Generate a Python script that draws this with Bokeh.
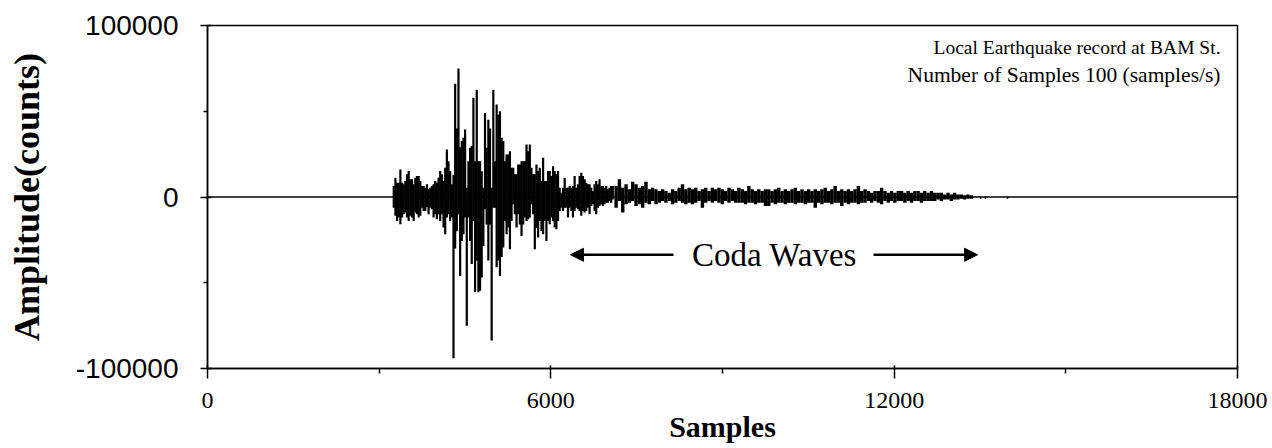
from bokeh.plotting import figure
from bokeh.models import (Range1d, FixedTicker, Label, Arrow, NormalHead,
                          ColumnDataSource, NumeralTickFormatter)
from bokeh.embed import file_html
from bokeh.resources import INLINE

# ---------------- data ----------------
# main burst: column readings (sample index, upper and lower excursion in counts)
burst_samples = [
    3255, 3284, 3313, 3342, 3371, 3400, 3429, 3458, 3487, 3516,
    3545, 3574, 3603, 3632, 3661, 3690, 3719, 3748, 3777, 3806,
    3835, 3864, 3893, 3922, 3951, 3980, 4009, 4038, 4067, 4096,
    4125, 4154, 4183, 4212, 4241, 4270, 4299, 4328, 4357, 4386,
    4415, 4444, 4473, 4502, 4531, 4560, 4589, 4618, 4647, 4676,
    4705, 4734, 4763, 4792, 4821, 4850, 4879, 4908, 4937, 4966,
    4995, 5024, 5053, 5082, 5111, 5140, 5169, 5198, 5227, 5256,
    5285, 5314, 5343, 5372, 5401, 5430, 5459, 5488, 5517, 5546,
    5575, 5604, 5633, 5662, 5691, 5720, 5749, 5778, 5807, 5836,
    5865, 5894, 5923, 5952, 5981, 6010, 6039, 6068, 6097, 6126,
    6155, 6184, 6213, 6242, 6271, 6300, 6329, 6358, 6387, 6416,
    6445, 6474, 6503, 6532, 6561, 6590, 6619, 6648, 6677, 6706,
    6735, 6764, 6793, 6822, 6851, 6880, 6909, 6938, 6967, 6996,
    7025, 7054, 7083]
burst_upper = [
    6400, 11200, 8300, 8300, 16100, 8300, 7400, 9300, 13200, 15100,
    10300, 10300, 7400, 11200, 12200, 12200, 9300, 6400, 6400, 5400,
    7400, 4500, 5400, 6400, 7400, 9300, 8300, 11200, 15100, 13200,
    9300, 17100, 27700, 20900, 15100, 7400, 13000, 66000, 40000, 75000,
    29000, 32600, 34500, 39300, 5400, 20900, 28700, 29700, 57800, 20900,
    62600, 20900, 20900, 15000, 5400, 49000, 28700, 45000, 40000, 5400,
    62600, 20900, 53900, 48000, 50000, 34500, 32600, 20900, 24800, 24800,
    26700, 17000, 17000, 13200, 13200, 19000, 19000, 20900, 20900, 20900,
    30600, 26700, 30600, 17000, 13200, 13200, 19000, 15100, 17000, 9300,
    22900, 9300, 9300, 15100, 15100, 12200, 18000, 15100, 13200, 15100,
    5400, 2500, 5400, 11200, 5400, 5400, 6400, 5400, 6400, 12200,
    5400, 7400, 12200, 14100, 12200, 10300, 8300, 7400, 7400, 5400,
    3500, 7400, 9300, 7400, 10300, 6400, 6400, 5400, 6400, 4500,
    5400, 6400, 6400]
burst_lower = [
    -6200, -11000, -14000, -12000, -15900, -12000, -10000, -9100, -12000, -14000,
    -11000, -12000, -14000, -9000, -10000, -12000, -11000, -6200, -8100, -8100,
    -6000, -10000, -6200, -7200, -12000, -10000, -13000, -10000, -14000, -10000,
    -17800, -21700, -12000, -10000, -14000, -12000, -94000, -30000, -20000, -10000,
    -46000, -25600, -21700, -12000, -75000, -12000, -25600, -39000, -14000, -55600,
    -37000, -55600, -54700, -47000, -28500, -7200, -16000, -37000, -16000, -83700,
    -6200, -6200, -41000, -37000, -46000, -35000, -29500, -14000, -21700, -17800,
    -30400, -14000, -4300, -10000, -17800, -10000, -16000, -22700, -16000, -12000,
    -14000, -13000, -12000, -4300, -10000, -30400, -18000, -23600, -14000, -19800,
    -21700, -14000, -25600, -14000, -15900, -12000, -14000, -17800, -18800, -14000,
    -8100, -6200, -8100, -6200, -6200, -12000, -6200, -8100, -12000, -8100,
    -6200, -7200, -8100, -11000, -8100, -9100, -8100, -6200, -10000, -5200,
    -4300, -8100, -10000, -6200, -5200, -4300, -5200, -4300, -3300, -3300,
    -2300, -3300, -1400]

# coda: column readings
coda_samples = [
    7141, 7199, 7257, 7315, 7373, 7431, 7489, 7547, 7605, 7663,
    7721, 7779, 7837, 7895, 7953, 8011, 8069, 8127, 8185, 8243,
    8301, 8359, 8417, 8475, 8533, 8591, 8649, 8707, 8765, 8823,
    8881, 8939, 8997, 9055, 9113, 9171, 9229, 9287, 9345, 9403,
    9461, 9519, 9577, 9635, 9693, 9751, 9809, 9867, 9925, 9983,
    10041, 10099, 10157, 10215, 10273, 10331, 10389, 10447, 10505, 10563,
    10621, 10679, 10737, 10795, 10853, 10911, 10969, 11027, 11085, 11143,
    11201, 11259, 11317, 11375, 11433, 11491, 11549, 11607, 11665, 11723,
    11781, 11839, 11897, 11955, 12013, 12071, 12129, 12187, 12245, 12303,
    12361, 12419, 12477, 12535, 12593, 12651, 12709, 12767, 12825, 12883,
    12941, 12999, 13057, 13115, 13173, 13231, 13289, 13347]
coda_upper = [
    6400, 10300, 5400, 7400, 4500, 8900, 7400, 5400, 6400, 8900,
    4500, 5400, 4500, 3500, 4500, 3500, 2500, 4500, 3500, 5400,
    7400, 4500, 5400, 4500, 5400, 3500, 4500, 5400, 3500, 5400,
    4500, 5400, 4500, 3500, 5400, 4500, 3500, 5400,
    4500, 3500, 6400, 4500, 3500, 4500, 3500, 4500, 4500, 3500,
    4500, 5400, 3500, 4500, 3500, 4500, 5400, 3500, 4500, 3500,
    4500, 3500, 4500, 3500, 4500, 5400, 3500, 4500, 6400, 3500,
    4500, 3500, 4500, 3500, 4500, 6400, 3500, 4500,
    3500, 2500, 3500, 3500, 5400, 3500, 2500, 3500, 2500, 3500,
    3500, 2500, 3500, 2500, 3500, 3500, 2500, 3500, 2500, 3500,
    2500, 2500, 2500, 1500, 2500, 1500, 2500, 1500, 1500, 1000,
    1500, 1000]
coda_lower = [
    -6200, -2300, -9100, -4300, -3300, -2300, -5200, -4300, -6200, -3300,
    -4300, -2300, -4300, -3300, -2300, -3300, -2300, -4300, -3300, -2300,
    -3300, -4300, -3300, -4300, -3300, -2300, -6200, -3300, -2300, -3300,
    -2300, -3300, -4300, -2300, -3300, -2300, -3300, -3300,
    -3300, -4300, -3300, -3300, -4300, -3300, -3300, -5200, -5200, -3300,
    -4300, -3300, -3300, -4300, -3300, -3300, -4300, -3300, -3300, -4300,
    -3300, -3300, -6200, -3300, -4300, -3300, -3300, -4300, -3300, -3300,
    -5200, -3300, -4300, -3300, -3300, -4300, -3300, -3300,
    -2300, -3300, -2300, -3300, -4300, -2300, -3300, -2300, -3300, -2300,
    -2300, -3300, -2300, -3300, -2300, -2300, -3300, -2300, -2300, -2300,
    -2300, -1400, -2300, -1400, -1400, -2300, -1400, -1400, -1000, -1400,
    -1000, -1000]

# isolated small blips after the coda
tail_samples = [13509, 13596, 13981]
tail_upper = [300, 300, 300]
tail_lower = [-1000, -1200, -1000]

# quiet trace (zero level) over the whole record
baseline_samples = [0, 18000]
baseline_amp = [0, 0]

x_ticks = [0, 6000, 12000, 18000]
x_minor_ticks = [3000, 9000, 15000]
y_ticks = [-100000, 0, 100000]
y_minor_ticks = [-50000, 50000]

# "Coda Waves" arrows (start sample, tip sample) and their level
coda_arrow_left = [8144, 6344]
coda_arrow_right = [11639, 13457]
coda_arrow_level = -33700

# ---------------- figure ----------------
p = figure(width=1272, height=448,
           x_range=Range1d(0, 18000), y_range=Range1d(-100000, 100000),
           output_backend="svg", toolbar_location=None,
           min_border_left=207, min_border_right=35,
           min_border_top=25, min_border_bottom=80)
p.background_fill_color = "white"
p.border_fill_color = "white"
p.xgrid.visible = False
p.ygrid.visible = False
p.outline_line_color = "black"
p.outline_line_width = 1.5

p.line(baseline_samples, baseline_amp, line_color="black", line_width=1.3)

burst_src = ColumnDataSource(dict(s=burst_samples, hi=burst_upper, lo=burst_lower))
p.segment(x0="s", y0="lo", x1="s", y1="hi", source=burst_src,
          line_color="black", line_width=2.2)
coda_src = ColumnDataSource(dict(s=coda_samples, hi=coda_upper, lo=coda_lower))
p.segment(x0="s", y0="lo", x1="s", y1="hi", source=coda_src,
          line_color="black", line_width=3.4)
tail_src = ColumnDataSource(dict(s=tail_samples, hi=tail_upper, lo=tail_lower))
p.segment(x0="s", y0="lo", x1="s", y1="hi", source=tail_src,
          line_color="black", line_width=1.5)

# axes
p.xaxis.ticker = FixedTicker(ticks=x_ticks, minor_ticks=x_minor_ticks)
p.yaxis.ticker = FixedTicker(ticks=y_ticks, minor_ticks=y_minor_ticks)
p.yaxis.formatter = NumeralTickFormatter(format="0")
p.xaxis.formatter = NumeralTickFormatter(format="0")
for ax in (p.xaxis[0], p.yaxis[0]):
    ax.axis_line_color = "black"
    ax.axis_line_width = 1.5
    ax.major_tick_line_color = "black"
    ax.minor_tick_line_color = "black"
    ax.major_tick_line_width = 1.5
    ax.minor_tick_line_width = 1.5
    ax.major_label_text_color = "black"
    ax.axis_label_text_color = "black"
    ax.axis_label_text_font = "Liberation Serif"
    ax.axis_label_text_font_style = "bold"

p.xaxis.major_tick_out = 10
p.xaxis.major_tick_in = 3
p.xaxis.minor_tick_out = 5
p.xaxis.minor_tick_in = 0
p.xaxis.major_label_standoff = 14
p.xaxis.major_label_text_font = "Liberation Serif"
p.xaxis.major_label_text_font_size = "24px"
p.xaxis.axis_label = "Samples"
p.xaxis.axis_label_text_font_size = "30px"
p.xaxis.axis_label_standoff = -1

p.yaxis.major_tick_out = 7
p.yaxis.major_tick_in = 4
p.yaxis.minor_tick_out = 4
p.yaxis.minor_tick_in = 0
p.yaxis.major_label_standoff = 22
p.yaxis.major_label_text_font = "Liberation Sans"
p.yaxis.major_label_text_font_size = "28px"
p.yaxis.axis_label = "Amplitude(counts)"
p.yaxis.axis_label_text_font_size = "36px"
p.yaxis.axis_label_standoff = 26

# record description
p.add_layout(Label(x=17703, y=87200, text="Local Earthquake record at BAM St.",
                   text_font="Liberation Serif", text_font_size="19.5px",
                   text_align="right", text_baseline="middle", text_color="black"))
p.add_layout(Label(x=17703, y=70900, text="Number of Samples 100 (samples/s)",
                   text_font="Liberation Serif", text_font_size="21.5px",
                   text_align="right", text_baseline="middle", text_color="black"))

# coda annotation
p.add_layout(Label(x=9909, y=coda_arrow_level, text="Coda Waves",
                   text_font="Liberation Serif", text_font_size="33px",
                   text_align="center", text_baseline="middle", text_color="black"))
p.add_layout(Arrow(end=NormalHead(size=13, fill_color="black", line_color="black"),
                   x_start=coda_arrow_left[0], y_start=coda_arrow_level,
                   x_end=coda_arrow_left[1], y_end=coda_arrow_level,
                   line_color="black", line_width=2.5))
p.add_layout(Arrow(end=NormalHead(size=13, fill_color="black", line_color="black"),
                   x_start=coda_arrow_right[0], y_start=coda_arrow_level,
                   x_end=coda_arrow_right[1], y_end=coda_arrow_level,
                   line_color="black", line_width=2.5))

open("out.html", "w").write(file_html(p, INLINE))
